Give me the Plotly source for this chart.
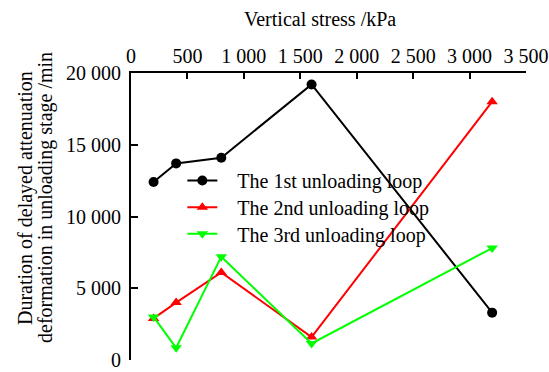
import plotly.graph_objects as go

# Vertical stress (kPa) at each unloading step
stress = [200, 400, 800, 1600, 3200]

# Duration of delayed attenuation deformation (min) per unloading loop
loop1 = [12400, 13700, 14100, 19200, 3300]
loop2 = [2900, 4000, 6100, 1600, 18000]
loop3 = [3000, 850, 7200, 1150, 7800]

names = ["The 1st unloading loop", "The 2nd unloading loop", "The 3rd unloading loop"]
colors = ["#000000", "#ff0000", "#00ff00"]
symbols = ["circle", "triangle-up", "triangle-down"]

x_ticks = [0, 500, 1000, 1500, 2000, 2500, 3000, 3500]
y_ticks = [0, 5000, 10000, 15000, 20000]

x_title = "Vertical stress /kPa"
y_title_lines = ["Duration of delayed attenuation", "deformation in unloading stage /min"]

FONT = "Liberation Serif"
FS = 20

W, H = 549, 372
ML, MR, MT, MB = 131, 23, 73, 12
PW, PH = W - ML - MR, H - MT - MB

fig = go.Figure()
legend_ids = ["legend", "legend2", "legend3"]
for ys, name, c, s, lg in zip([loop1, loop2, loop3], names, colors, symbols, legend_ids):
    fig.add_trace(go.Scatter(
        x=stress, y=ys, name="\u00a0\u00a0\u00a0" + name, mode="lines+markers",
        line=dict(color=c, width=2),
        marker=dict(symbol=s, size=10, color=c),
        legend=lg,
    ))

# one legend box per entry so the row spacing can be set freely
legend_style = dict(xanchor="left", yanchor="top", x=0.13,
                    bgcolor="rgba(0,0,0,0)", borderwidth=0,
                    font=dict(family=FONT, size=FS, color="black"))
legend_rows_px = [180, 206.7, 233.3]
legend_layout = {}
for lg, row in zip(legend_ids, legend_rows_px):
    top_px = row - 19
    legend_layout[lg] = dict(legend_style, y=(H - MB - top_px) / PH)

fig.update_layout(
    width=W, height=H,
    margin=dict(l=ML, r=MR, t=MT, b=MB, autoexpand=False),
    paper_bgcolor="white", plot_bgcolor="white",
    separators=". ",
    font=dict(family=FONT, size=FS, color="black"),
    showlegend=True,
    **legend_layout,
    xaxis=dict(
        side="top", range=[0, 3500], tickvals=x_ticks, tickformat=",",
        ticks="inside", ticklen=6, tickwidth=2, tickcolor="black",
        showline=True, linecolor="black", linewidth=2,
        showgrid=False, zeroline=False, automargin=False,
        tickfont=dict(family=FONT, size=FS),
    ),
    yaxis=dict(
        range=[0, 20000], tickvals=y_ticks, tickformat=",",
        ticks="inside", ticklen=7, tickwidth=2, tickcolor="black",
        showline=True, linecolor="black", linewidth=2,
        showgrid=False, zeroline=False, automargin=False,
        ticklabelstandoff=4, ticklabeloverflow="allow",
        tickfont=dict(family=FONT, size=FS),
    ),
)

# axis titles placed as paper-referenced annotations
fig.add_annotation(
    text=x_title, xref="paper", yref="paper",
    x=(319.5 - ML) / PW, y=(H - MB - 19) / PH, xanchor="center", yanchor="middle",
    showarrow=False, font=dict(family=FONT, size=FS, color="black"),
)
for line, xc in zip(y_title_lines, [25, 45]):
    fig.add_annotation(
        text=line, xref="paper", yref="paper", textangle=-90,
        x=(xc - ML) / PW, y=(H - MB - 198) / PH, xanchor="center", yanchor="middle",
        showarrow=False, font=dict(family=FONT, size=FS, color="black"),
    )

fig.write_html("out.html")
